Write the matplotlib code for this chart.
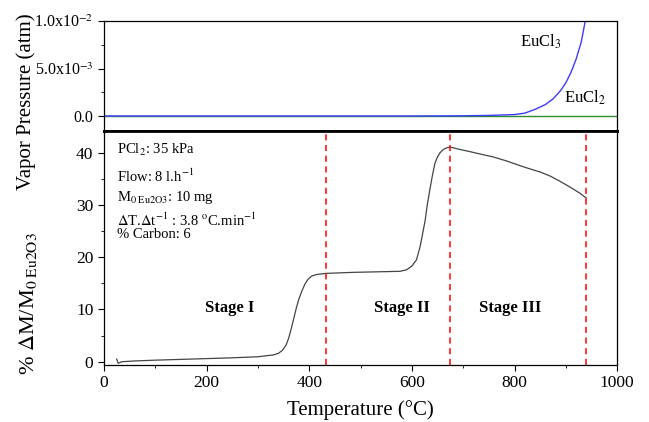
import matplotlib
matplotlib.use('Agg')
import matplotlib.pyplot as plt
from matplotlib.ticker import MultipleLocator

plt.rcParams['font.family'] = ['Liberation Serif', 'DejaVu Serif']
plt.rcParams['mathtext.fontset'] = 'stix'

# TG curve: temperature (°C) and mass gain (%)
temp_tg = [25, 28, 35, 60, 100, 150, 200, 250, 300, 330, 340, 348, 355, 360, 365,
           370, 375, 380, 386, 392, 398, 405, 415, 432, 485, 577, 590, 600, 609,
           616, 621, 626, 630, 635, 640, 645, 650, 655, 660, 665, 670, 678, 690,
           713, 735, 758, 785, 811, 830, 850, 870, 889, 905, 915, 928, 940]
mass_gain = [0.5, -0.3, 0.0, 0.15, 0.3, 0.45, 0.6, 0.75, 0.95, 1.3, 1.6, 2.2, 3.2,
             4.5, 6.3, 8.3, 10.3, 12.0, 13.6, 14.9, 15.8, 16.4, 16.7, 16.9, 17.1,
             17.3, 17.6, 18.3, 19.5, 22.0, 24.5, 27.1, 30.0, 32.9, 35.6, 38.0,
             39.2, 40.0, 40.5, 40.8, 41.0, 41.0, 40.7, 40.2, 39.7, 39.2, 38.4,
             37.5, 36.9, 36.3, 35.5, 34.5, 33.6, 33.0, 32.2, 31.3]

# vapour pressures (atm)
temp_vp = [0, 600, 700, 750, 800, 820, 840, 860, 875, 890, 900, 910, 920, 930,
           937, 945]
p_eucl3 = [0, 0, 0.00002, 0.00006, 0.00015, 0.0003, 0.0007, 0.0012, 0.0018,
           0.0027, 0.0035, 0.0046, 0.0060, 0.0078, 0.0098, 0.012]
temp_eucl2 = [0, 1000]
p_eucl2 = [0, 0]

stage_limits = [432, 675, 940]
stage_names = ['Stage I', 'Stage II', 'Stage III']
stage_x = [246, 581, 791]

conditions = [r'PCl$_2$: 35 kPa',
              r'Flow: 8 l.h$^{-1}$',
              r'M$_{0\ \mathrm{Eu2O3}}$: 10 mg',
              r'$\Delta$T.$\Delta$t$^{-1}$ : 3.8 $^{\mathrm{o}}$C.min$^{-1}$',
              '% Carbon: 6']
cond_y = [40.5, 35.5, 31.5, 27.0, 24.3]

fig = plt.figure(figsize=(6.49, 4.22), dpi=100)
ax_top = fig.add_axes([0.160, 0.6896, 0.791, 0.2604])
ax = fig.add_axes([0.160, 0.135, 0.791, 0.5546])

# top panel
ax_top.plot(temp_eucl2, p_eucl2, color='#2e8b2e', lw=1.0)
ax_top.plot(temp_vp, p_eucl3, color='#3b3bff', lw=1.0)
ax_top.set_xlim(0, 1000)
ax_top.set_ylim(-0.00158, 0.01)
ax_top.set_yticks([0, 0.005, 0.01])
ax_top.set_yticklabels(['0.0', r'5.0x10$^{-3}$', r'1.0x10$^{-2}$'])
ax_top.yaxis.set_minor_locator(MultipleLocator(0.0025))
ax_top.set_xticks([])
ax_top.tick_params(axis='y', which='major', length=4, labelsize=11.5, direction='out')
ax_top.tick_params(axis='y', which='minor', length=2, direction='out')
ax_top.text(852, 0.0078, r'EuCl$_3$', ha='center', va='center', fontsize=12)
ax_top.text(937, 0.0019, r'EuCl$_2$', ha='center', va='center', fontsize=12)
for s in ax_top.spines.values():
    s.set_linewidth(0.9)
ax_top.spines['bottom'].set_linewidth(2.0)

# bottom panel
ax.plot(temp_tg, mass_gain, color='#444444', lw=0.9)
for t in stage_limits:
    ax.axvline(t, color='red', ls=(0, (4, 3)), lw=1.1)
ax.set_xlim(0, 1000)
ax.set_ylim(-0.63, 44.15)
ax.xaxis.set_major_locator(MultipleLocator(200))
ax.xaxis.set_minor_locator(MultipleLocator(100))
ax.yaxis.set_major_locator(MultipleLocator(10))
ax.yaxis.set_minor_locator(MultipleLocator(5))
ax.tick_params(which='major', length=4, labelsize=12.5, direction='out')
ax.tick_params(which='minor', length=2, direction='out')
for s in ax.spines.values():
    s.set_linewidth(0.9)
ax.spines['top'].set_linewidth(2.0)

for name, x in zip(stage_names, stage_x):
    ax.text(x, 10.3, name, ha='center', va='center', fontsize=12, fontweight='bold')
for c, y in zip(conditions, cond_y):
    ax.text(25, y, c, ha='left', va='center', fontsize=10.5)

ax.set_xlabel('Temperature (°C)', fontsize=15, labelpad=6)
fig.text(0.040, 0.76, 'Vapor Pressure (atm)', rotation=90, ha='center', va='center',
         fontsize=15)
fig.text(0.043, 0.28, r'% $\Delta$M/M$_{0\ \mathrm{Eu2O3}}$', rotation=90,
         ha='center', va='center', fontsize=16)

fig.savefig('out.png', dpi=100)
